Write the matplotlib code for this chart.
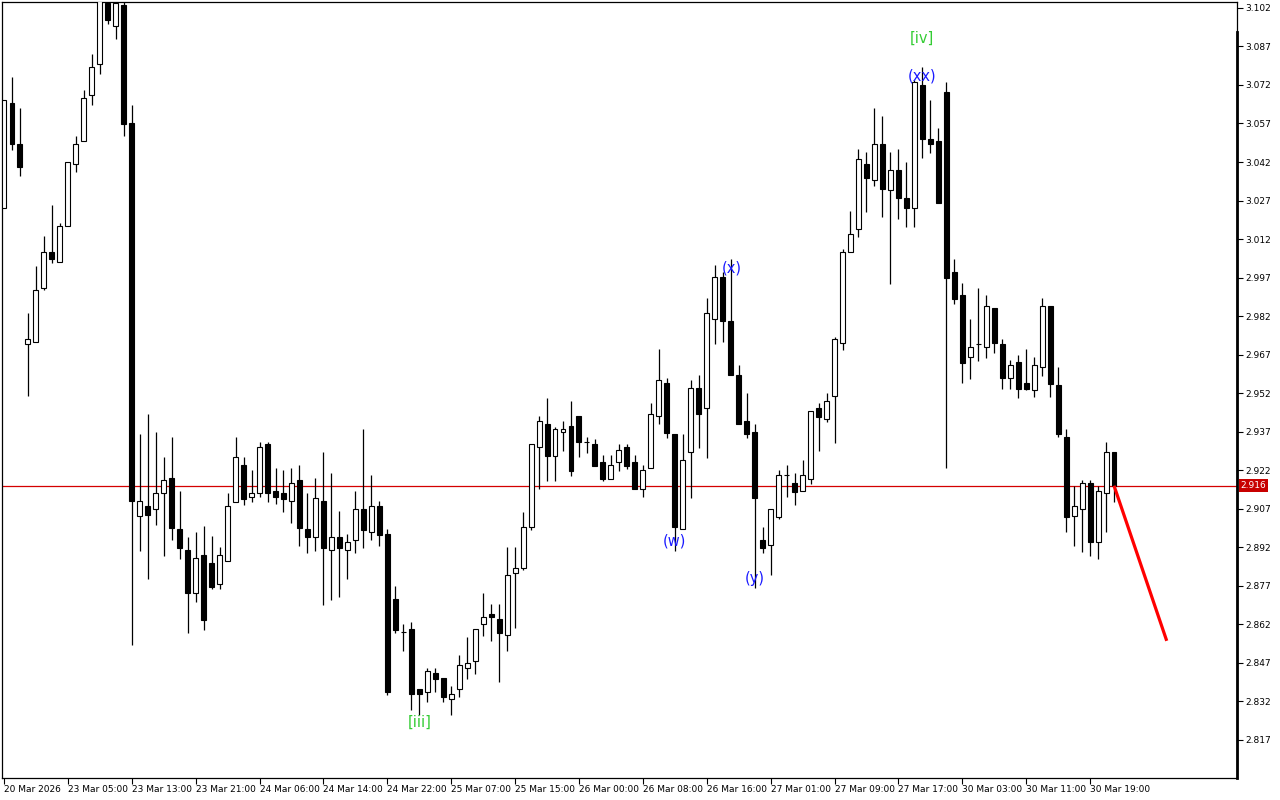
import matplotlib
matplotlib.use("Agg")
import matplotlib.pyplot as plt
import matplotlib.transforms as mtransforms
import numpy as np

opens = [3.0241,3.0650,3.0490,2.9712,2.9720,2.9930,3.0070,3.0031,3.0171,3.0413,
         3.0502,3.0681,3.0802,3.1040,3.0950,3.1032,3.0572,2.9042,2.9081,2.9070,
         2.9132,2.9190,2.8992,2.8910,2.8743,2.8890,2.8859,2.8778,2.8867,2.9097,
         2.9241,2.9116,2.9132,2.9323,2.9140,2.9132,2.9101,2.9182,2.8992,2.8961,
         2.9101,2.8910,2.8961,2.8910,2.8949,2.9070,2.8980,2.9081,2.8972,2.8719,
         2.8591,2.8602,2.8369,2.8357,2.8431,2.8412,2.8330,2.8369,2.8450,2.8478,
         2.8622,2.8661,2.8641,2.8579,2.8820,2.8840,2.9000,2.9311,2.9400,2.9276,
         2.9369,2.9393,2.9432,2.9330,2.9323,2.9253,2.9186,2.9253,2.9311,2.9253,
         2.9147,2.9229,2.9432,2.9560,2.9361,2.8992,2.9291,2.9541,2.9463,2.9809,
         2.9973,2.9801,2.9591,2.9412,2.9369,2.8949,2.8929,2.9038,2.9202,2.9171,
         2.9140,2.9186,2.9463,2.9420,2.9509,2.9716,3.0070,3.0160,3.0413,3.0350,
         3.0490,3.0311,3.0389,3.0280,3.0241,3.0720,3.0510,3.0502,3.0693,2.9992,
         2.9903,2.9661,2.9712,2.9700,2.9852,2.9712,2.9579,2.9642,2.9560,2.9533,
         2.9622,2.9860,2.9552,2.9350,2.9042,2.9070,2.9171,2.8941,2.9132,2.9291]

highs = [3.0662,3.0751,3.0631,2.9833,3.0016,3.0132,3.0253,3.0183,3.0420,3.0522,
         3.0701,3.0841,3.1060,3.1050,3.1060,3.1060,3.0642,2.9361,2.9439,2.9369,
         2.9272,2.9350,2.9140,2.8961,2.8980,2.9003,2.8964,2.8922,2.9132,2.9350,
         2.9272,2.9221,2.9330,2.9330,2.9229,2.9221,2.9229,2.9241,2.9132,2.9190,
         2.9291,2.9210,2.9062,2.8972,2.9140,2.9381,2.9202,2.9101,2.8992,2.8770,
         2.8622,2.8630,2.8369,2.8450,2.8450,2.8412,2.8380,2.8501,2.8571,2.8602,
         2.8743,2.8700,2.8700,2.8922,2.8922,2.9058,2.9323,2.9432,2.9502,2.9389,
         2.9412,2.9490,2.9432,2.9350,2.9342,2.9280,2.9280,2.9323,2.9323,2.9280,
         2.9241,2.9482,2.9692,2.9579,2.9361,2.9361,2.9572,2.9591,2.9891,3.0019,
         2.9990,3.0043,2.9630,2.9521,2.9400,2.8999,2.9070,2.9221,2.9241,2.9210,
         2.9260,2.9451,2.9482,2.9521,2.9739,3.0082,3.0230,3.0471,3.0459,3.0631,
         3.0599,3.0459,3.0471,3.0420,3.0740,3.0790,3.0662,3.0553,3.0732,3.0043,
         2.9949,2.9809,2.9930,2.9903,2.9852,2.9731,2.9650,2.9669,2.9692,2.9661,
         2.9891,2.9860,2.9622,2.9381,2.9159,2.9182,2.9182,2.9159,2.9330,2.9291]

lows = [3.0241,3.0467,3.0366,2.9509,2.9720,2.9922,3.0027,3.0031,3.0171,3.0381,
        3.0502,3.0642,3.0763,3.0958,3.0899,3.0522,2.8540,2.8906,2.8797,2.9007,
        2.8887,2.8949,2.8875,2.8587,2.8707,2.8598,2.8758,2.8758,2.8867,2.9097,
        2.9085,2.9097,2.9116,2.9097,2.9089,2.9058,2.9015,2.8925,2.8898,2.8906,
        2.8696,2.8715,2.8727,2.8797,2.8898,2.8918,2.8949,2.8925,2.8345,2.8587,
        2.8517,2.8287,2.8267,2.8318,2.8357,2.8318,2.8267,2.8338,2.8408,2.8427,
        2.8575,2.8556,2.8396,2.8517,2.8606,2.8832,2.8988,2.9147,2.9178,2.9178,
        2.9295,2.9198,2.9272,2.9287,2.9237,2.9178,2.9186,2.9217,2.9225,2.9147,
        2.9116,2.9229,2.9400,2.9346,2.8906,2.8992,2.9112,2.9307,2.9268,2.9712,
        2.9720,2.9591,2.9400,2.9346,2.8762,2.8898,2.8813,2.9031,2.9116,2.9085,
        2.9140,2.9167,2.9295,2.9408,2.9326,2.9688,3.0070,3.0128,3.0226,3.0327,
        3.0206,2.9945,3.0198,3.0167,3.0167,3.0436,3.0455,3.0261,2.9229,2.9868,
        2.9560,2.9576,2.9646,2.9657,2.9677,2.9537,2.9537,2.9502,2.9533,2.9506,
        2.9587,2.9506,2.9350,2.8980,2.8925,2.8902,2.8887,2.8875,2.8980,2.9097]

closes = [3.0662,3.0490,3.0401,2.9731,2.9922,3.0070,3.0043,3.0171,3.0420,3.0490,
          3.0670,3.0790,3.1045,3.0973,3.1039,3.0568,2.9101,2.9101,2.9046,2.9132,
          2.9182,2.8996,2.8918,2.8743,2.8879,2.8637,2.8766,2.8890,2.9081,2.9272,
          2.9108,2.9132,2.9311,2.9132,2.9116,2.9108,2.9171,2.8996,2.8961,2.9112,
          2.8918,2.8961,2.8918,2.8941,2.9070,2.8988,2.9081,2.8968,2.8357,2.8598,
          2.8591,2.8349,2.8349,2.8439,2.8408,2.8338,2.8349,2.8462,2.8470,2.8602,
          2.8649,2.8649,2.8587,2.8813,2.8840,2.9000,2.9323,2.9412,2.9276,2.9381,
          2.9381,2.9217,2.9330,2.9330,2.9237,2.9186,2.9241,2.9299,2.9237,2.9147,
          2.9221,2.9439,2.9572,2.9365,2.8999,2.9260,2.9541,2.9439,2.9833,2.9973,
          2.9801,2.9591,2.9400,2.9361,2.9112,2.8918,2.9070,2.9202,2.9202,2.9136,
          2.9202,2.9451,2.9428,2.9490,2.9731,3.0070,3.0140,3.0432,3.0358,3.0490,
          3.0315,3.0389,3.0280,3.0241,3.0732,3.0510,3.0490,3.0261,2.9969,2.9887,
          2.9638,2.9700,2.9712,2.9860,2.9716,2.9579,2.9630,2.9537,2.9537,2.9630,
          2.9860,2.9556,2.9361,2.9038,2.9081,2.9171,2.8941,2.9140,2.9291,2.9159]

time_labels = ["20 Mar 2026", "23 Mar 05:00", "23 Mar 13:00", "23 Mar 21:00",
               "24 Mar 06:00", "24 Mar 14:00", "24 Mar 22:00", "25 Mar 07:00",
               "25 Mar 15:00", "26 Mar 00:00", "26 Mar 08:00", "26 Mar 16:00",
               "27 Mar 01:00", "27 Mar 09:00", "27 Mar 17:00", "30 Mar 03:00",
               "30 Mar 11:00", "30 Mar 19:00"]
time_label_bars = list(range(0, 137, 8))

price_ticks = [3.102, 3.087, 3.072, 3.057, 3.042, 3.027, 3.012, 2.997, 2.982,
               2.967, 2.952, 2.937, 2.922, 2.907, 2.892, 2.877, 2.862, 2.847,
               2.832, 2.817]
current_price = 2.916

wave_labels = ["[iii]", "(w)", "(x)", "(y)", "(xx)", "[iv]"]
wave_bars = [52.0, 84.0, 91.1, 94.0, 115.0, 115.0]
wave_prices = [2.8240, 2.8945, 3.0008, 2.8797, 3.0755, 3.0903]
wave_colors = ["#33cc33", "#1a1aff", "#1a1aff", "#1a1aff", "#1a1aff", "#33cc33"]

arrow_bars = [139, 145.6]
arrow_prices = [2.916, 2.8556]

fig = plt.figure(figsize=(12.8, 8), dpi=100)
ax = fig.add_axes([2/1280, 22/800, 1235/1280, 776/800])

x = np.arange(len(opens))
o = np.array(opens); h = np.array(highs); l = np.array(lows); c = np.array(closes)

ax.vlines(x, l, h, color="black", linewidth=0.9, zorder=2)
bottoms = np.minimum(o, c)
heights = np.abs(c - o)
faces = ["white" if cc >= oo else "black" for oo, cc in zip(o, c)]
ax.bar(x, heights, bottom=bottoms, width=0.62, color=faces, edgecolor="black",
       linewidth=0.8, zorder=3)

ax.axhline(current_price, color="#d40000", linewidth=0.9, zorder=1)

ax.plot(arrow_bars, arrow_prices, color="#ff0000", linewidth=2.3, zorder=4,
        solid_capstyle="butt")

for lab, b, p, col in zip(wave_labels, wave_bars, wave_prices, wave_colors):
    ax.text(b, p, lab, color=col, fontsize=10.5, ha="center", va="center", zorder=5)

ax.set_xlim(-0.25, 154.4)
ax.set_ylim(2.8022, 3.1043)

ax.yaxis.tick_right()
ax.set_yticks(price_ticks)
ax.set_yticklabels([f"{v:.3f}" for v in price_ticks])
ax.tick_params(axis="y", direction="out", length=4, width=0.8, labelsize=6.5, pad=2)

ax.set_xticks(time_label_bars)
ax.set_xticklabels(time_labels, ha="left")
ax.tick_params(axis="x", direction="out", length=4, width=0.8, labelsize=6.5, pad=1)

for s in ax.spines.values():
    s.set_linewidth(0.9)
    s.set_color("black")

ax.plot([1, 1], [0, (778 - 32) / 776], transform=ax.transAxes, color="black",
        linewidth=2.0, clip_on=False, zorder=6)

trans = mtransforms.blended_transform_factory(ax.transAxes, ax.transData)
ax.text(1.003, current_price, f"{current_price:.3f}", transform=trans,
        color="white", fontsize=6.5, ha="left", va="center", zorder=7,
        bbox=dict(boxstyle="square,pad=0.2", fc="#c80000", ec="none"))

fig.savefig("out.png", dpi=100)
